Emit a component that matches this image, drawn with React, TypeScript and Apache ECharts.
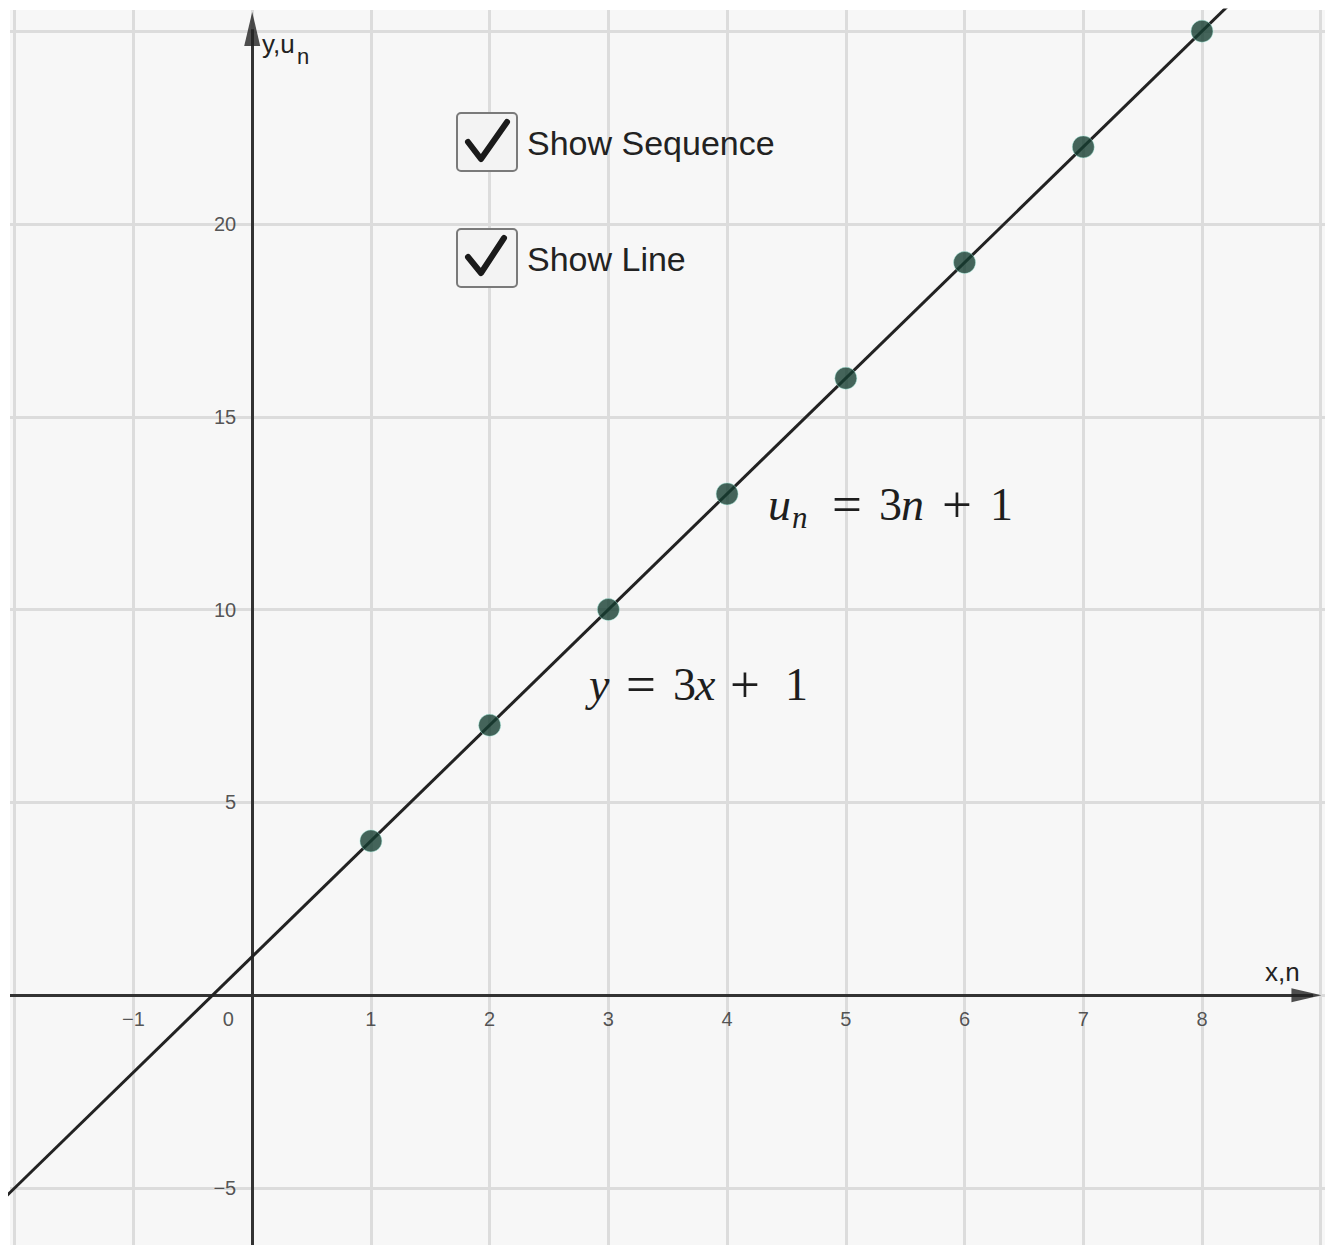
import React, { useEffect, useRef } from "react";
import * as echarts from "echarts";

// ---- data ----
const N_VALUES = [1, 2, 3, 4, 5, 6, 7, 8];
const U_VALUES = [4, 7, 10, 13, 16, 19, 22, 25];
// two points on the line y = 3x + 1 (beyond the view, clipped)
const LINE_X = [-2.5, 9.5];
const LINE_Y = [-6.5, 29.5];
const X_GRID = [-2, -1, 0, 1, 2, 3, 4, 5, 6, 7, 8, 9];
const Y_GRID = [-5, 0, 5, 10, 15, 20, 25];
const X_TICKS = [-1, 1, 2, 3, 4, 5, 6, 7, 8];
const X_TICK_LABELS = ["−1", "1", "2", "3", "4", "5", "6", "7", "8"];
const Y_TICKS = [-5, 5, 10, 15, 20];
const Y_TICK_LABELS = ["−5", "5", "10", "15", "20"];
const ORIGIN_LABEL = "0";

const X_MIN = -2.04;
const X_MAX = 9.036;
const Y_MIN = -6.48;
const Y_MAX = 25.55;

const SANS = "Liberation Sans, Arial, sans-serif";
const SERIF = "Liberation Serif, 'Times New Roman', serif";

type Piece = { t: string; x: number; it?: boolean; sub?: boolean; op?: boolean };

function mathPieces(pieces: Piece[], y: number, size: number) {
  return pieces.map((p) => {
    const fs = p.sub ? Math.round(size * 0.68) : p.op ? Math.round(size * 1.15) : size;
    return {
      type: "text",
      x: p.x,
      y: p.sub ? y + size * 0.3 : y,
      z: 50,
      style: {
        text: p.t,
        font: `${p.it ? "italic " : ""}${fs}px ${SERIF}`,
        fill: "#1e1e1e",
        textAlign: "left",
        textVerticalAlign: "middle",
      },
    };
  });
}

function checkbox(x: number, y: number, label: string, check: number[][]) {
  return [
    {
      type: "rect",
      z: 50,
      shape: { x, y, width: 60, height: 58, r: 4 },
      style: { fill: "#f3f3f3", stroke: "#7a7a7a", lineWidth: 2 },
    },
    {
      type: "polyline",
      z: 51,
      shape: { points: check },
      style: { stroke: "#1a1a1a", lineWidth: 6, fill: null, lineCap: "round", lineJoin: "round" },
    },
    {
      type: "text",
      z: 51,
      x: x + 70,
      y: y + 30,
      style: {
        text: label,
        font: `34px ${SANS}`,
        fill: "#222",
        textAlign: "left",
        textVerticalAlign: "middle",
      },
    },
  ];
}

export default function App() {
  const ref = useRef<HTMLDivElement>(null);

  useEffect(() => {
    if (!ref.current) return;
    const chart = echarts.init(ref.current, undefined, { renderer: "svg" });

    const gridLines = [
      ...X_GRID.map((x) => ({ xAxis: x })),
      ...Y_GRID.map((y) => ({ yAxis: y })),
    ];

    const option: any = {
      animation: false,
      backgroundColor: "#ffffff",
      grid: {
        left: 10,
        top: 10,
        right: 2,
        bottom: 0,
        show: true,
        backgroundColor: "#f7f7f7",
        borderWidth: 0,
      },
      xAxis: { type: "value", min: X_MIN, max: X_MAX, show: false },
      yAxis: { type: "value", min: Y_MIN, max: Y_MAX, show: false },
      series: [
        {
          name: "grid",
          type: "line",
          z: 1,
          data: [[0, 0]],
          symbol: "none",
          lineStyle: { opacity: 0 },
          silent: true,
          markLine: {
            z: 1,
            silent: true,
            symbol: "none",
            label: { show: false },
            lineStyle: { color: "#dcdcdc", width: 3, type: "solid" },
            data: gridLines,
          },
        },
        {
          name: "axes",
          type: "line",
          z: 2,
          data: [[0, 0]],
          symbol: "none",
          lineStyle: { opacity: 0 },
          silent: true,
          markLine: {
            z: 2,
            silent: true,
            symbol: "none",
            label: { show: false },
            lineStyle: { color: "#333333", width: 3, type: "solid" },
            data: [
              [{ coord: [X_MIN, 0] }, { coord: [X_MAX - 0.1, 0] }],
              [{ coord: [0, Y_MIN] }, { coord: [0, Y_MAX - 0.5] }],
            ],
          },
        },
        {
          name: "arrows",
          type: "scatter",
          z: 3,
          silent: true,
          data: [
            { value: [X_MAX - 0.03, 0], symbol: "path://M0,0L30,7L0,14Z", symbolSize: [30, 14], symbolOffset: ["-50%", 0] },
            { value: [0, Y_MAX - 0.05], symbol: "path://M7,0L14,32L0,32Z", symbolSize: [16, 34], symbolOffset: [0, "50%"] },
          ],
          itemStyle: { color: "#222222" },
        },
        {
          name: "y = 3x + 1",
          type: "line",
          z: 10,
          data: LINE_X.map((x, i) => [x, LINE_Y[i]]),
          symbol: "none",
          clip: true,
          lineStyle: { color: "#222222", width: 3 },
          silent: true,
        },
        {
          name: "u_n",
          type: "scatter",
          z: 11,
          data: N_VALUES.map((n, i) => [n, U_VALUES[i]]),
          symbolSize: 22,
          itemStyle: {
            color: "#173e32",
            borderColor: "rgba(170,240,225,0.6)",
            borderWidth: 1,
          },
        },
        {
          name: "xlabels",
          type: "scatter",
          z: 12,
          silent: true,
          symbolSize: 0,
          data: X_TICKS.map((x, i) => ({ value: [x, 0], name: X_TICK_LABELS[i] })),
          label: {
            show: true,
            position: "inside",
            offset: [0, 24],
            formatter: (p: any) => p.name,
            color: "#2a2a2a",
            fontSize: 20,
            fontFamily: SANS,
          },
        },
        {
          name: "ylabels",
          type: "scatter",
          z: 12,
          silent: true,
          symbolSize: 0,
          data: [
            ...Y_TICKS.map((y, i) => ({ value: [0, y], name: Y_TICK_LABELS[i], label: { offset: [-16, 0], align: "right" } })),
            { value: [0, 0], name: ORIGIN_LABEL, label: { offset: [-24, 24], align: "center" } },
          ],
          label: {
            show: true,
            position: "inside",
            formatter: (p: any) => p.name,
            color: "#2a2a2a",
            fontSize: 20,
            fontFamily: SANS,
          },
        },
      ],
      graphic: [
        {
          type: "text",
          x: 262,
          y: 44,
          z: 50,
          style: { text: "y,u", font: `26px ${SANS}`, fill: "#222", textAlign: "left", textVerticalAlign: "middle" },
        },
        {
          type: "text",
          x: 297,
          y: 56,
          z: 50,
          style: { text: "n", font: `22px ${SANS}`, fill: "#222", textAlign: "left", textVerticalAlign: "middle" },
        },
        {
          type: "text",
          x: 1265,
          y: 972,
          z: 50,
          style: { text: "x,n", font: `26px ${SANS}`, fill: "#222", textAlign: "left", textVerticalAlign: "middle" },
        },
        ...checkbox(457, 113, "Show Sequence", [[468, 142], [481, 159], [507, 122]]),
        ...checkbox(457, 229, "Show Line", [[468, 257], [481, 273], [504, 238]]),
        ...mathPieces(
          [
            { t: "u", x: 768, it: true },
            { t: "n", x: 792, it: true, sub: true },
            { t: "=", x: 832, op: true },
            { t: "3", x: 879 },
            { t: "n", x: 901, it: true },
            { t: "+", x: 942, op: true },
            { t: "1", x: 990 },
          ],
          504,
          46
        ),
        ...mathPieces(
          [
            { t: "y", x: 589, it: true },
            { t: "=", x: 626, op: true },
            { t: "3", x: 673 },
            { t: "x", x: 695, it: true },
            { t: "+", x: 730, op: true },
            { t: "1", x: 785 },
          ],
          684,
          46
        ),
      ],
    };

    chart.setOption(option);
    return () => chart.dispose();
  }, []);

  return (
    <div
      ref={ref}
      style={{ position: "fixed", left: 0, top: 0, width: 1327, height: 1245, background: "#fff" }}
    />
  );
}
